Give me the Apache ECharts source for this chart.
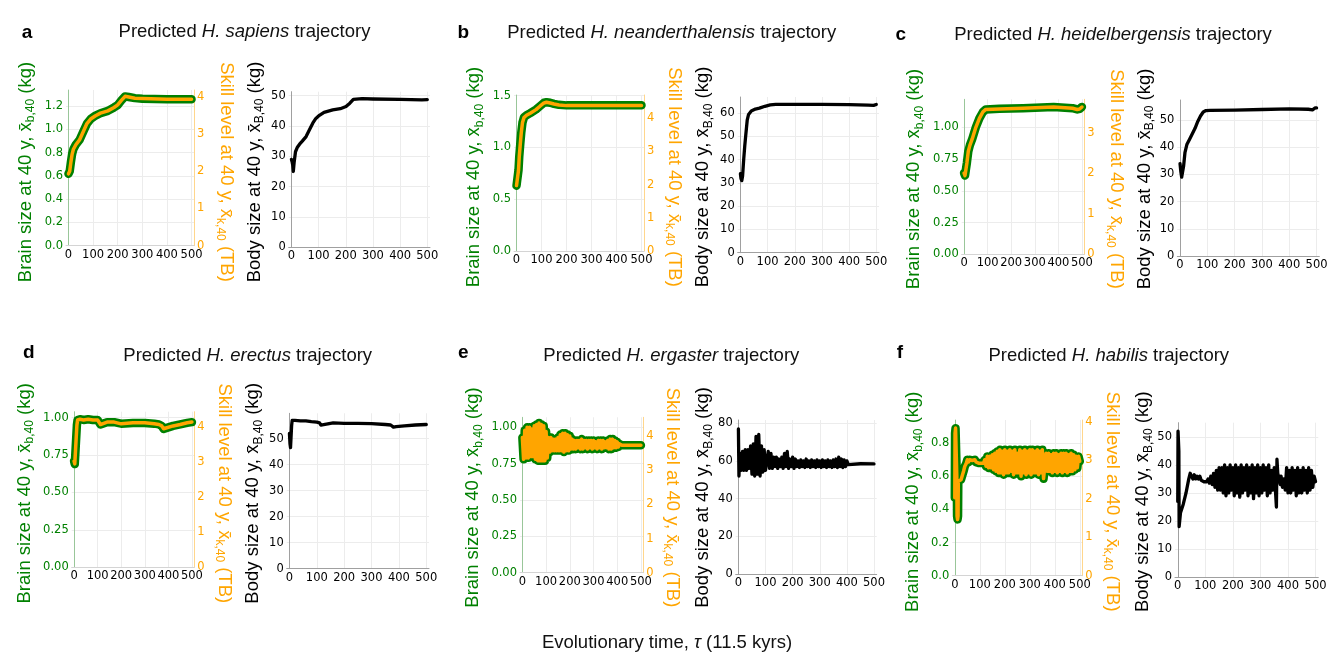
<!DOCTYPE html>
<html>
<head>
<meta charset="utf-8">
<script src="https://cdn.jsdelivr.net/npm/echarts@6/dist/echarts.min.js"></script>
<style>
html, body { margin: 0; padding: 0; background: #fff; }
#chart { width: 1335px; height: 664px; }
</style>
</head>
<body>
<div id="chart"></div>
<script>
// tick labels shared by every panel
const xTicks = [0, 100, 200, 300, 400, 500];

// ---- a: H. sapiens ----
const tBrainA = [0, 5, 10, 15, 20, 30, 45, 60, 75, 90, 110, 130, 160, 185, 200, 215, 230, 245, 270, 300, 400, 500];
const brainA = [0.62, 0.64, 0.72, 0.79, 0.83, 0.87, 0.91, 0.98, 1.05, 1.09, 1.12, 1.14, 1.16, 1.19, 1.21, 1.25, 1.285, 1.28, 1.27, 1.265, 1.26, 1.26];
const skillA = [1.93, 2.00, 2.25, 2.46, 2.59, 2.71, 2.84, 3.06, 3.28, 3.40, 3.49, 3.56, 3.62, 3.71, 3.78, 3.90, 4.01, 3.99, 3.96, 3.95, 3.93, 3.93];
const tBodyA = [0, 3, 5, 7, 10, 15, 22, 30, 40, 54, 65, 79, 90, 103, 120, 152, 180, 201, 215, 228, 260, 300, 400, 480, 500];
const bodyA = [29, 28, 27, 25, 28, 31.5, 33, 34, 35, 36.5, 38.5, 41, 42.5, 43.5, 44.5, 45.3, 45.7, 46.4, 47.5, 48.8, 49, 48.9, 48.8, 48.6, 48.7];
const brainTicksA = [0, 0.2, 0.4, 0.6, 0.8, 1.0, 1.2];
const skillTicksA = [0, 1, 2, 3, 4];
const bodyTicksA = [0, 10, 20, 30, 40, 50];

// ---- b: H. neanderthalensis ----
const tBrainB = [0, 4, 8, 11, 15, 19, 24, 30, 40, 55, 78, 95, 110, 120, 135, 150, 170, 200, 300, 400, 500];
const brainB = [0.63, 0.63, 0.78, 0.91, 1.03, 1.14, 1.24, 1.29, 1.31, 1.33, 1.365, 1.40, 1.43, 1.435, 1.43, 1.42, 1.41, 1.405, 1.405, 1.405, 1.405];
const skillB = [1.97, 1.97, 2.43, 2.84, 3.21, 3.56, 3.87, 4.02, 4.09, 4.15, 4.26, 4.37, 4.46, 4.48, 4.46, 4.43, 4.40, 4.38, 4.38, 4.38, 4.38];
const tBodyB = [0, 2, 5, 8, 12, 16, 20, 25, 30, 40, 55, 70, 90, 110, 130, 200, 300, 400, 470, 490, 500];
const bodyB = [34, 32, 31, 33, 40, 46, 51, 57, 59.5, 61, 61.8, 62.2, 63, 63.6, 63.8, 63.8, 63.8, 63.7, 63.5, 63.4, 63.8];
const brainTicksB = [0, 0.5, 1.0, 1.5];
const skillTicksB = [0, 1, 2, 3, 4];
const bodyTicksB = [0, 10, 20, 30, 40, 50, 60];

// ---- c: H. heidelbergensis ----
const tBrainC = [0, 4, 8, 12, 18, 25, 35, 50, 65, 80, 92, 100, 150, 250, 380, 460, 480, 490, 500];
const brainC = [0.64, 0.62, 0.63, 0.72, 0.81, 0.86, 0.91, 1.00, 1.07, 1.12, 1.14, 1.14, 1.145, 1.15, 1.16, 1.15, 1.14, 1.145, 1.16];
const skillC = [2.00, 1.94, 1.97, 2.25, 2.54, 2.69, 2.85, 3.13, 3.35, 3.51, 3.57, 3.57, 3.58, 3.60, 3.63, 3.60, 3.57, 3.58, 3.63];
const tBodyC = [0, 3, 6, 9, 13, 18, 25, 35, 45, 55, 65, 75, 85, 95, 110, 200, 300, 400, 470, 485, 495, 500];
const bodyC = [34, 31, 29, 29.5, 33, 38, 41, 43, 45, 47, 49.5, 51.5, 53, 53.5, 53.6, 53.7, 53.9, 54.1, 54.0, 53.8, 54.5, 54.5];
const brainTicksC = [0, 0.25, 0.5, 0.75, 1.0];
const skillTicksC = [0, 1, 2, 3];
const bodyTicksC = [0, 10, 20, 30, 40, 50];

// ---- d: H. erectus ----
const tBrainD = [0, 3, 7, 10, 12, 15, 25, 40, 60, 80, 100, 105, 112, 120, 140, 170, 200, 250, 300, 340, 360, 372, 380, 390, 420, 450, 480, 500];
const brainD = [0.71, 0.69, 0.69, 0.70, 0.95, 0.985, 0.99, 0.985, 0.99, 0.985, 0.985, 0.975, 0.955, 0.965, 0.97, 0.97, 0.96, 0.965, 0.965, 0.96, 0.955, 0.945, 0.925, 0.93, 0.945, 0.955, 0.965, 0.97];
const skillD = [3.02, 2.94, 2.94, 2.98, 4.04, 4.19, 4.21, 4.19, 4.21, 4.19, 4.19, 4.15, 4.06, 4.11, 4.13, 4.13, 4.08, 4.11, 4.11, 4.08, 4.06, 4.02, 3.94, 3.96, 4.02, 4.06, 4.11, 4.13];
const tBodyD = [0, 2, 4, 6, 8, 10, 20, 40, 60, 80, 100, 110, 115, 120, 160, 200, 250, 300, 350, 370, 380, 390, 420, 460, 500];
const bodyD = [52, 48, 46.5, 47, 55, 57, 57, 56.8, 56.8, 56.5, 56.3, 56, 55.2, 55.8, 56, 55.8, 55.8, 55.7, 55.4, 55.2, 54.4, 54.6, 54.9, 55.2, 55.4];
const brainTicksD = [0, 0.25, 0.5, 0.75, 1.0];
const skillTicksD = [0, 1, 2, 3, 4];
const bodyTicksD = [0, 10, 20, 30, 40, 50];

// ---- e: H. ergaster ----
const tBrainE = [0, 5, 10, 15, 20, 25, 30, 35, 40, 45,
  50, 55, 60, 65, 70, 75, 80, 85, 90, 95,
  100, 105, 110, 115, 120, 125, 130, 135, 140, 145,
  150, 155, 160, 165, 170, 175, 180, 185, 190, 195,
  200, 205, 210, 215, 220, 225, 230, 235, 240, 245,
  250, 255, 260, 265, 270, 275, 280, 285, 290, 295,
  300, 305, 310, 315, 320, 325, 330, 335, 340, 345,
  350, 355, 360, 365, 370, 375, 380, 385, 390, 395,
  400, 405, 410, 420, 450, 480, 500];
const brainE = [0.93, 0.78, 0.98, 0.79, 1.00, 0.79, 1.00, 0.80, 0.99, 0.80,
  1.01, 0.78, 1.02, 0.77, 1.03, 0.77, 1.02, 0.77, 1.01, 0.77,
  0.97, 0.79, 0.93, 0.83, 0.93, 0.84, 0.92, 0.84, 0.92, 0.84,
  0.93, 0.84, 0.95, 0.84, 0.96, 0.83, 0.96, 0.84, 0.95, 0.84,
  0.94, 0.85, 0.92, 0.85, 0.91, 0.85, 0.91, 0.86, 0.91, 0.85,
  0.92, 0.85, 0.91, 0.86, 0.91, 0.85, 0.91, 0.86, 0.91, 0.85,
  0.91, 0.86, 0.90, 0.85, 0.91, 0.86, 0.91, 0.85, 0.91, 0.86,
  0.90, 0.86, 0.91, 0.85, 0.92, 0.85, 0.92, 0.86, 0.91, 0.86,
  0.90, 0.865, 0.885, 0.877, 0.877, 0.877, 0.877];
const skillE = [3.96, 3.32, 4.17, 3.36, 4.26, 3.36, 4.26, 3.40, 4.21, 3.40,
  4.30, 3.32, 4.34, 3.28, 4.38, 3.28, 4.34, 3.28, 4.30, 3.28,
  4.13, 3.36, 3.96, 3.53, 3.96, 3.57, 3.91, 3.57, 3.91, 3.57,
  3.96, 3.57, 4.04, 3.57, 4.08, 3.53, 4.08, 3.57, 4.04, 3.57,
  4.00, 3.62, 3.91, 3.62, 3.87, 3.62, 3.87, 3.66, 3.87, 3.62,
  3.91, 3.62, 3.87, 3.66, 3.87, 3.62, 3.87, 3.66, 3.87, 3.62,
  3.87, 3.66, 3.83, 3.62, 3.87, 3.66, 3.87, 3.62, 3.87, 3.66,
  3.83, 3.66, 3.87, 3.62, 3.91, 3.62, 3.91, 3.66, 3.87, 3.66,
  3.83, 3.68, 3.77, 3.73, 3.73, 3.73, 3.73];
const tBodyE = [0, 2,
  5, 10, 15, 20, 25, 30, 35, 40, 45, 50,
  55, 60, 65, 70, 75, 80, 85, 90, 95, 100,
  105, 110, 115, 120, 125, 130, 135, 140, 145, 150,
  155, 160, 165, 170, 175, 180, 185, 190, 195, 200,
  205, 210, 215, 220, 225, 230, 235, 240, 245, 250,
  255, 260, 265, 270, 275, 280, 285, 290, 295, 300,
  305, 310, 315, 320, 325, 330, 335, 340, 345, 350,
  355, 360, 365, 370, 375, 380, 385, 390, 395, 400,
  405, 410, 450, 500];
const bodyE = [77, 52,
  64, 55, 65, 55, 66, 55, 66, 56, 68, 53,
  69, 52, 73, 53, 74, 52, 68, 54, 66, 55,
  54, 65, 56, 64, 56, 62, 57, 62, 56, 61,
  57, 62, 56, 64, 57, 65, 56, 61, 57, 62,
  56, 61, 57, 60, 56.5, 60.5, 57, 60, 56.5, 61,
  57, 60, 56.5, 60.5, 57, 60, 56.5, 60.5, 57, 60,
  56.5, 60.5, 57, 60, 56.5, 60.5, 57, 60, 56.5, 60.5,
  57, 61, 56.5, 62, 57, 61, 56.5, 60.5, 57, 60,
  58, 58.6, 58.5, 58.4];
const brainTicksE = [0, 0.25, 0.5, 0.75, 1.0];
const skillTicksE = [0, 1, 2, 3, 4];
const bodyTicksE = [0, 20, 40, 60, 80];

// ---- f: H. habilis ----
const tBrainF = [0, 1, 3, 6, 8, 9, 11, 13, 14, 18, 25, 30, 35, 40, 45,
  50, 55, 60, 65, 70, 75, 80, 85, 90, 95,
  100, 105, 110, 115, 120, 125, 130, 135, 140, 145,
  150, 155, 160, 165, 170, 175, 180, 185, 190, 195,
  200, 205, 210, 215, 220, 225, 230, 235, 240, 245,
  250, 255, 260, 265, 270, 275, 280, 285, 290, 295,
  300, 305, 310, 315, 320, 325, 330, 335, 340, 345,
  350, 355, 360, 365, 370, 375, 380, 385, 390, 395,
  400, 405, 410, 415, 420, 425, 430, 435, 440, 445,
  450, 455, 460, 465, 470, 475, 480, 485, 490, 495,
  500];
const brainF = [0.47, 0.86, 0.89, 0.89, 0.60, 0.36, 0.34, 0.36, 0.57, 0.575, 0.58, 0.59, 0.63, 0.66, 0.675,
  0.70, 0.685, 0.70, 0.69, 0.695, 0.69, 0.70, 0.685, 0.695, 0.68,
  0.69, 0.68, 0.69, 0.68, 0.70, 0.66, 0.72, 0.65, 0.72, 0.65,
  0.73, 0.64, 0.74, 0.63, 0.75, 0.62, 0.76, 0.62, 0.75, 0.61,
  0.76, 0.62, 0.75, 0.62, 0.76, 0.63, 0.75, 0.61, 0.76, 0.62,
  0.74, 0.62, 0.76, 0.60, 0.75, 0.62, 0.76, 0.61, 0.75, 0.62,
  0.76, 0.61, 0.76, 0.62, 0.75, 0.62, 0.76, 0.61, 0.75, 0.62,
  0.76, 0.585, 0.585, 0.74, 0.63, 0.74, 0.63, 0.73, 0.62, 0.74,
  0.63, 0.74, 0.62, 0.73, 0.63, 0.74, 0.62, 0.74, 0.63, 0.74,
  0.62, 0.73, 0.63, 0.74, 0.63, 0.73, 0.64, 0.72, 0.65, 0.72,
  0.69];
const skillF = [2.02, 3.70, 3.83, 3.83, 2.58, 1.55, 1.46, 1.55, 2.45, 2.47, 2.49, 2.54, 2.71, 2.84, 2.90,
  3.01, 2.95, 3.01, 2.97, 2.99, 2.97, 3.01, 2.95, 2.99, 2.92,
  2.97, 2.92, 2.97, 2.92, 3.01, 2.84, 3.10, 2.80, 3.10, 2.80,
  3.14, 2.75, 3.18, 2.71, 3.23, 2.67, 3.27, 2.67, 3.23, 2.62,
  3.27, 2.67, 3.23, 2.67, 3.27, 2.71, 3.23, 2.62, 3.27, 2.67,
  3.18, 2.67, 3.27, 2.58, 3.23, 2.67, 3.27, 2.62, 3.23, 2.67,
  3.27, 2.62, 3.27, 2.67, 3.23, 2.67, 3.27, 2.62, 3.23, 2.67,
  3.27, 2.52, 2.52, 3.18, 2.71, 3.18, 2.71, 3.14, 2.67, 3.18,
  2.71, 3.18, 2.67, 3.14, 2.71, 3.18, 2.67, 3.18, 2.71, 3.18,
  2.67, 3.14, 2.71, 3.18, 2.71, 3.14, 2.75, 3.10, 2.80, 3.10,
  2.97];
const tBodyF = [0, 1, 3, 4, 5, 8, 10, 20, 30, 40,
  45, 50, 55, 60, 65, 70, 75, 80, 85, 90, 95, 100,
  105, 110, 115, 120, 125, 130, 135, 140, 145, 150,
  155, 160, 165, 170, 175, 180, 185, 190, 195, 200,
  205, 210, 215, 220, 225, 230, 235, 240, 245, 250,
  255, 260, 265, 270, 275, 280, 285, 290, 295, 300,
  305, 310, 315, 320, 325, 330, 335, 340, 345, 350, 355,
  358, 360, 363, 368, 372, 375,
  380, 385, 390, 395, 400, 405, 410, 415, 420, 425,
  430, 435, 440, 445, 450, 455, 460, 465, 470, 475,
  480, 485, 490, 495, 500];
const bodyF = [27, 52, 52, 45, 18, 18, 23, 26, 30, 35,
  37, 36.5, 35, 36.5, 35, 36, 35, 36, 34.5, 35, 34, 34.5,
  34, 35, 33.5, 36, 33, 37, 32, 38, 31, 39,
  31, 39, 30, 40, 29, 39, 30, 40, 31, 39,
  29, 40, 30, 39, 28.5, 40, 30, 39, 31, 40,
  29, 39, 30, 40, 28, 39, 30, 40, 29, 39,
  30, 40, 31, 39, 29, 40, 30, 38, 31, 39, 30,
  25, 42, 37, 35, 33, 36,
  32, 35, 31, 39, 30, 38, 30, 39, 31, 38,
  29, 39, 30, 38, 30, 39, 31, 38, 30, 39,
  31, 38, 32, 36, 34];
const brainTicksF = [0, 0.2, 0.4, 0.6, 0.8];
const skillTicksF = [0, 1, 2, 3, 4];
const bodyTicksF = [0, 10, 20, 30, 40, 50];

const GREEN = '#008000';
const ORANGE = '#ffa500';
const TICK_FONT = 'DejaVu Sans';
const TEXT_FONT = 'Liberation Sans';

const panels = [
  { letter: 'a', species: 'H. sapiens', tBrain: tBrainA, brain: brainA, skill: skillA, tBody: tBodyA, body: bodyA,
    brainMax: 1.34, skillMax: 4.18, bodyMax: 51.3, brainTicks: brainTicksA, skillTicks: skillTicksA, bodyTicks: bodyTicksA, dec: 1 },
  { letter: 'b', species: 'H. neanderthalensis', tBrain: tBrainB, brain: brainB, skill: skillB, tBody: tBodyB, body: bodyB,
    brainMax: 1.505, skillMax: 4.70, bodyMax: 67, brainTicks: brainTicksB, skillTicks: skillTicksB, bodyTicks: bodyTicksB, dec: 1 },
  { letter: 'c', species: 'H. heidelbergensis', tBrain: tBrainC, brain: brainC, skill: skillC, tBody: tBodyC, body: bodyC,
    brainMax: 1.22, skillMax: 3.82, bodyMax: 57.4, brainTicks: brainTicksC, skillTicks: skillTicksC, bodyTicks: bodyTicksC, dec: 2 },
  { letter: 'd', species: 'H. erectus', tBrain: tBrainD, brain: brainD, skill: skillD, tBody: tBodyD, body: bodyD,
    brainMax: 1.04, skillMax: 4.425, bodyMax: 59.7, brainTicks: brainTicksD, skillTicks: skillTicksD, bodyTicks: bodyTicksD, dec: 2 },
  { letter: 'e', species: 'H. ergaster', tBrain: tBrainE, brain: brainE, skill: skillE, tBody: tBodyE, body: bodyE,
    brainMax: 1.069, skillMax: 4.549, bodyMax: 81.7, brainTicks: brainTicksE, skillTicks: skillTicksE, bodyTicks: bodyTicksE, dec: 2 },
  { letter: 'f', species: 'H. habilis', tBrain: tBrainF, brain: brainF, skill: skillF, tBody: tBodyF, body: bodyF,
    brainMax: 0.94, skillMax: 4.04, bodyMax: 55, brainTicks: brainTicksF, skillTicks: skillTicksF, bodyTicks: bodyTicksF, dec: 1 }
];

// pixel layout: grids are [left, top, width, height]
const layout = [
  { brainGrid: [66, 90, 128, 155.7], bodyGrid: [288.7, 91.7, 141.3, 155.6], title: [244.5, 32], letter: [27, 33], labX: [25.8, 225.8, 255], labY: 172 },
  { brainGrid: [514, 95, 130, 156], bodyGrid: [737.7, 97, 141.3, 155.7], title: [671.7, 32.7], letter: [463.3, 32.7], labX: [474.2, 674.2, 703.3], labY: 177 },
  { brainGrid: [961.7, 99.3, 122.6, 155], bodyGrid: [1177.3, 100, 142, 156], title: [1113, 35], letter: [900.7, 35], labX: [914.2, 1115.8, 1145], labY: 179 },
  { brainGrid: [71.7, 411.7, 122.6, 155.6], bodyGrid: [286.7, 413.3, 142.3, 155.4], title: [247.7, 356], letter: [28.7, 353], labX: [25, 224.2, 253.3], labY: 493.3 },
  { brainGrid: [520, 417.3, 123.3, 155.4], bodyGrid: [735.7, 420, 141, 154], title: [671.3, 356], letter: [463.3, 353], labX: [473.3, 672.5, 703.3], labY: 497.5 },
  { brainGrid: [952.3, 420, 130, 155.7], bodyGrid: [1175, 422.7, 143.3, 154.6], title: [1108.8, 356], letter: [900, 353], labX: [913.3, 1112.5, 1143.3], labY: 501.7 }
];

function zip(t, v) {
  if (t.length !== v.length) console.warn('length mismatch', t.length, v.length);
  return t.map((x, i) => [x, v[i]]);
}

function makeX(gridIndex, lineColor) {
  return {
    type: 'value', gridIndex: gridIndex, min: -10, max: 510,
    axisLine: { show: true, onZero: false, lineStyle: { color: lineColor, width: 1 } },
    axisTick: { show: false, customValues: xTicks },
    axisLabel: { customValues: xTicks, color: '#000', fontSize: 11.5, fontFamily: TICK_FONT, margin: 3 },
    splitLine: { show: true, lineStyle: { color: '#ececec', width: 1 } }
  };
}

function makeY(gridIndex, position, max, ticks, dec, textColor, lineColor, split) {
  return {
    type: 'value', gridIndex: gridIndex, position: position, min: 0, max: max,
    axisLine: { show: true, lineStyle: { color: lineColor, width: 1 } },
    axisTick: { show: false, customValues: ticks },
    axisLabel: { customValues: ticks, color: textColor, fontSize: 11.5, fontFamily: TICK_FONT, margin: 3,
      formatter: v => v.toFixed(dec) },
    splitLine: { show: split, lineStyle: { color: '#ececec', width: 1 } }
  };
}

function makeLine(xi, yi, data, color, width) {
  return {
    type: 'line', xAxisIndex: xi, yAxisIndex: yi, data: data, showSymbol: false, symbol: 'none',
    lineStyle: { color: color, width: width, cap: 'round', join: 'round' },
    emphasis: { disabled: true }, animation: false
  };
}

function label(x, y, rot, text, color) {
  return {
    type: 'text', x: x, y: y, rotation: rot, silent: true,
    style: {
      text: text, fill: color, fontSize: 18.5, fontFamily: TEXT_FONT, lineHeight: 22,
      align: 'center', verticalAlign: 'middle',
      rich: { s: { fontSize: 12, fontFamily: TEXT_FONT, fill: color, lineHeight: 12, verticalAlign: 'bottom' } }
    }
  };
}

const grid = [], xAxis = [], yAxis = [], series = [], graphic = [];
panels.forEach((p, i) => {
  const L = layout[i];
  [L.brainGrid, L.bodyGrid].forEach(g => grid.push({ left: g[0], top: g[1], width: g[2], height: g[3], show: false }));
  xAxis.push(makeX(2 * i, '#d4d4d4'), makeX(2 * i + 1, '#a0a0a0'));
  yAxis.push(
    makeY(2 * i, 'left', p.brainMax, p.brainTicks, p.dec, GREEN, 'rgba(0,128,0,0.35)', true),
    makeY(2 * i, 'right', p.skillMax, p.skillTicks, 0, ORANGE, 'rgba(255,165,0,0.45)', false),
    makeY(2 * i + 1, 'left', p.bodyMax, p.bodyTicks, 0, '#000', '#a0a0a0', true)
  );
  series.push(
    makeLine(2 * i, 3 * i, zip(p.tBrain, p.brain), GREEN, 8.5),
    makeLine(2 * i, 3 * i + 1, zip(p.tBrain, p.skill), ORANGE, 3.5),
    makeLine(2 * i + 1, 3 * i + 2, zip(p.tBody, p.body), '#000', 3.3)
  );
  graphic.push(
    { type: 'text', x: L.letter[0], y: L.letter[1], silent: true,
      style: { text: p.letter, fill: '#000', fontSize: 19, fontWeight: 'bold', fontFamily: TEXT_FONT, align: 'center', verticalAlign: 'middle' } },
    { type: 'text', x: L.title[0], y: L.title[1], silent: true,
      style: { text: 'Predicted {i|' + p.species + '} trajectory', fill: '#111', fontSize: 18.5, fontFamily: TEXT_FONT,
        align: 'center', verticalAlign: 'middle',
        rich: { i: { fontStyle: 'italic', fontSize: 18.5, fontFamily: TEXT_FONT, fill: '#111' } } } },
    label(L.labX[0], L.labY, Math.PI / 2, 'Brain size at 40 y, x\u0304{s|b,40} (kg)', GREEN),
    label(L.labX[1], L.labY, -Math.PI / 2, 'Skill level at 40 y, x\u0304{s|k,40} (TB)', ORANGE),
    label(L.labX[2], L.labY, Math.PI / 2, 'Body size at 40 y, x\u0304{s|B,40} (kg)', '#000')
  );
});

graphic.push({
  type: 'text', x: 667, y: 643, silent: true,
  style: { text: 'Evolutionary time, {i|\u03c4} (11.5 kyrs)', fill: '#111', fontSize: 18.5, fontFamily: TEXT_FONT,
    align: 'center', verticalAlign: 'middle',
    rich: { i: { fontStyle: 'italic', fontSize: 18.5, fontFamily: TEXT_FONT, fill: '#111' } } }
});

const chart = echarts.init(document.getElementById('chart'), null, { renderer: 'canvas' });
chart.setOption({
  backgroundColor: '#fff',
  animation: false,
  grid: grid,
  xAxis: xAxis,
  yAxis: yAxis,
  series: series,
  graphic: graphic
});
</script>
</body>
</html>
